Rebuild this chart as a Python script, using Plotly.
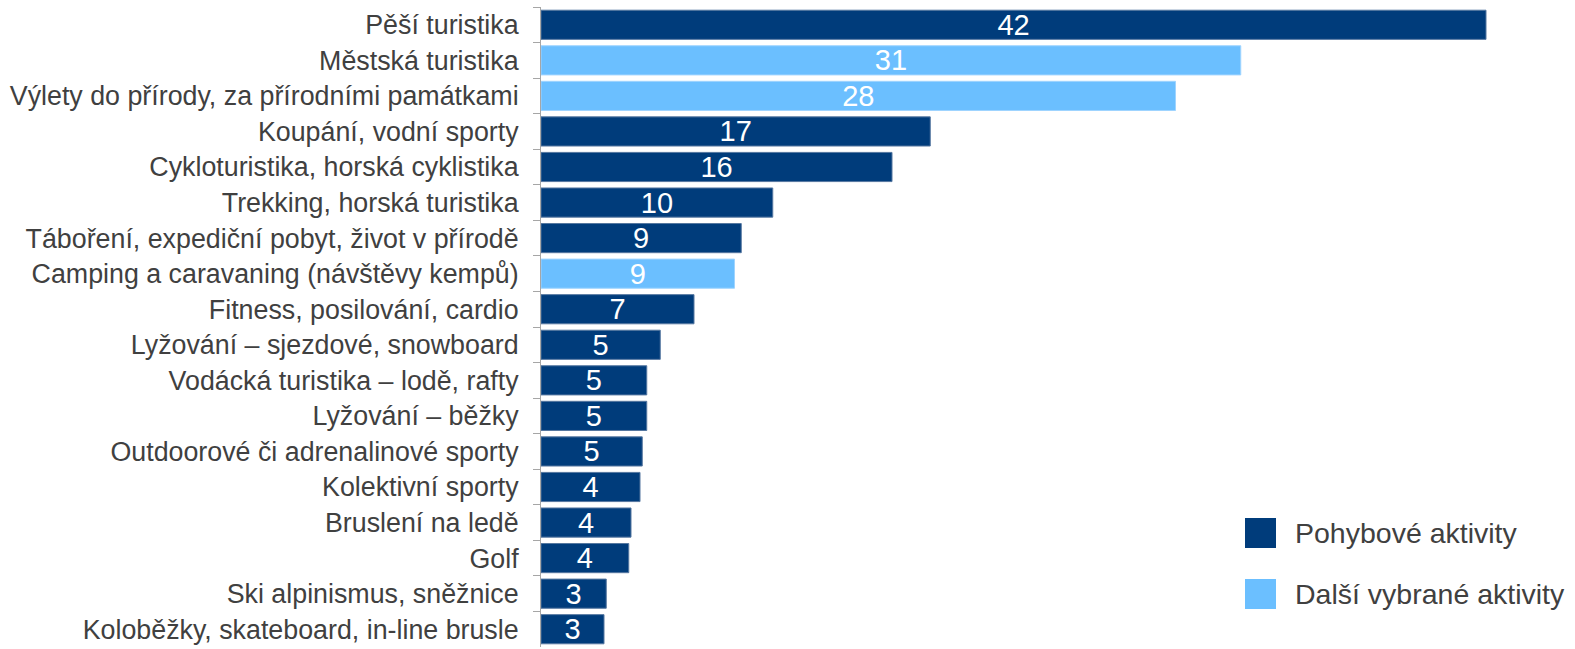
import plotly.graph_objects as go

# Activities, top to bottom
categories = [
    "Pěší turistika",
    "Městská turistika",
    "Výlety do přírody, za přírodními památkami",
    "Koupání, vodní sporty",
    "Cykloturistika, horská cyklistika",
    "Trekking, horská turistika",
    "Táboření, expediční pobyt, život v přírodě",
    "Camping a caravaning (návštěvy kempů)",
    "Fitness, posilování, cardio",
    "Lyžování – sjezdové, snowboard",
    "Vodácká turistika – lodě, rafty",
    "Lyžování – běžky",
    "Outdoorové či adrenalinové sporty",
    "Kolektivní sporty",
    "Bruslení na ledě",
    "Golf",
    "Ski alpinismus, sněžnice",
    "Koloběžky, skateboard, in-line brusle",
]
values = [42.0, 31.1, 28.2, 17.3, 15.6, 10.3, 8.9, 8.6, 6.8, 5.3, 4.7, 4.7,
          4.5, 4.4, 4.0, 3.9, 2.9, 2.8]
groups = ["Pohybové aktivity", "Další vybrané aktivity", "Další vybrané aktivity",
          "Pohybové aktivity", "Pohybové aktivity", "Pohybové aktivity",
          "Pohybové aktivity", "Další vybrané aktivity", "Pohybové aktivity",
          "Pohybové aktivity", "Pohybové aktivity", "Pohybové aktivity",
          "Pohybové aktivity", "Pohybové aktivity", "Pohybové aktivity",
          "Pohybové aktivity", "Pohybové aktivity", "Pohybové aktivity"]
legend_items = ["Pohybové aktivity", "Další vybrané aktivity"]

colors = {"Pohybové aktivity": "#003C7B", "Další vybrané aktivity": "#6BBFFF"}
edge = {"Pohybové aktivity": "#5577A0", "Další vybrané aktivity": "#9FD4FF"}
FONT = "Liberation Sans, Arial, sans-serif"
TEXT = "#404040"

fig = go.Figure()
fig.add_trace(go.Bar(
    y=categories,
    x=values,
    orientation="h",
    marker=dict(color=[colors[g] for g in groups],
                line=dict(color=[edge[g] for g in groups], width=1)),
    texttemplate="%{x:.0f}",
    textposition="inside",
    insidetextanchor="middle",
    textangle=0,
    constraintext="none",
    textfont=dict(family=FONT, size=29, color="white"),
    showlegend=False,
    hoverinfo="skip",
))

# Legend: coloured squares with labels on the right
W, H = 1575, 649
for i, name in enumerate(legend_items):
    y_top = 518 + i * 61
    fig.add_shape(type="rect", xref="paper", yref="paper",
                  x0=(1245 - 541) / (W - 541), x1=(1276 - 541) / (W - 541),
                  y0=1 - (y_top - 7) / 640, y1=1 - (y_top + 30 - 7) / 640,
                  fillcolor=colors[name], line=dict(width=0))
    fig.add_annotation(xref="paper", yref="paper",
                       x=(1293 - 541) / (W - 541), y=1 - (y_top + 15 - 7) / 640,
                       text=name, showarrow=False, xanchor="left", yanchor="middle",
                       font=dict(family=FONT, size=28.5, color=TEXT))

fig.update_layout(
    width=W, height=H,
    margin=dict(l=541, r=0, t=7, b=2),
    paper_bgcolor="white", plot_bgcolor="white",
    bargap=0.18,
    font=dict(family=FONT, color=TEXT),
    xaxis=dict(range=[0, (W - 541) / 22.5], visible=False, fixedrange=True),
    yaxis=dict(
        type="category",
        categoryorder="array",
        categoryarray=categories,
        autorange="reversed",
        showline=True, linecolor="#A6A6A6", linewidth=1,
        ticks="outside", tickson="boundaries", ticklen=7, tickcolor="#A6A6A6",
        tickfont=dict(family=FONT, size=26.8, color=TEXT),
        ticklabelstandoff=16,
        showgrid=False, zeroline=False,
    ),
)

fig.write_html("out.html")
